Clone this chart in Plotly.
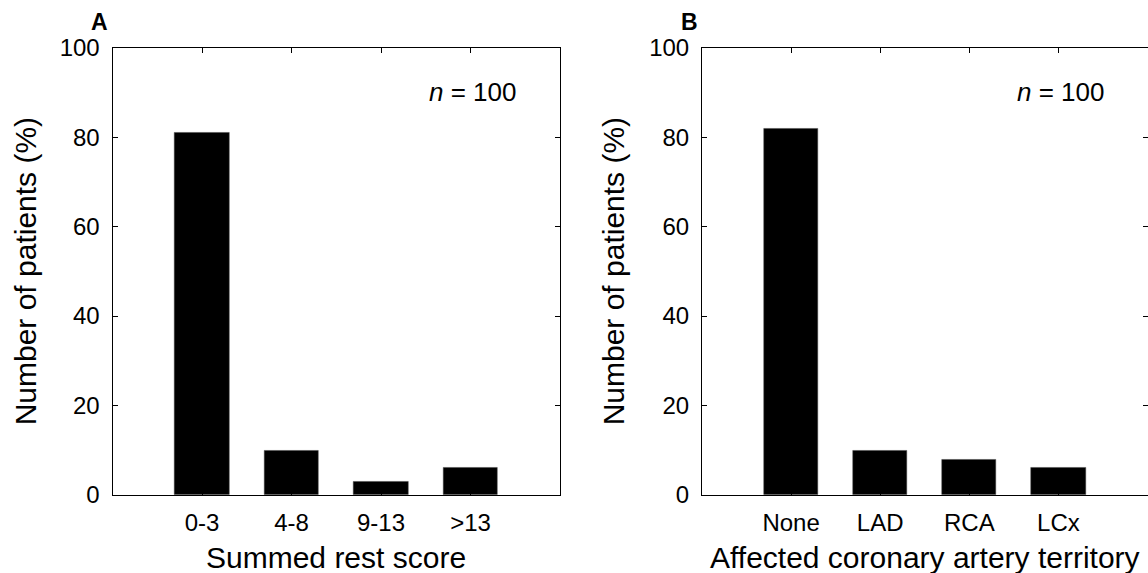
import plotly.graph_objects as go

# ---- data ----
score_categories = ["0-3", "4-8", "9-13", ">13"]
score_values = [81, 10, 3, 6]
territory_categories = ["None", "LAD", "RCA", "LCx"]
territory_values = [82, 10, 8, 6]
y_ticks = [0, 20, 40, 60, 80, 100]

W, H = 1148, 573
FONT = "Liberation Sans, Arial, sans-serif"

def px_x(x):
    return x / W

def px_y(y):
    return 1 - y / H

top_px, bottom_px = 47.7, 495.0
a_left, a_right = 112.5, 560.0
b_left, b_right = 702.0, 1147.5

fig = go.Figure()
fig.add_trace(go.Bar(x=score_categories, y=score_values, width=0.61,
                     marker=dict(color="black", line=dict(color="#444", width=0.5)),
                     xaxis="x", yaxis="y", showlegend=False))
fig.add_trace(go.Bar(x=territory_categories, y=territory_values, width=0.61,
                     marker=dict(color="black", line=dict(color="#444", width=0.5)),
                     xaxis="x2", yaxis="y2", showlegend=False))

common_x = dict(type="category", range=[-1, 4], showline=True, linecolor="black", linewidth=1,
                mirror="ticks", ticks="inside", ticklen=5, tickcolor="black", tickwidth=1,
                showgrid=False, zeroline=False, ticklabelstandoff=6, automargin=False,
                tickfont=dict(family=FONT, size=24, color="black"))
common_y = dict(range=[0, 100], tickvals=y_ticks, showline=True, linecolor="black", linewidth=1,
                mirror="ticks", ticks="inside", ticklen=5, tickcolor="black", tickwidth=1,
                showgrid=False, zeroline=False, ticklabelstandoff=7, automargin=False,
                tickfont=dict(family=FONT, size=24, color="black"))

yd = [px_y(bottom_px), px_y(top_px)]
fig.update_layout(
    template="none",
    width=W, height=H, margin=dict(l=0, r=0, t=0, b=0, pad=0),
    paper_bgcolor="white", plot_bgcolor="white",
    xaxis=dict(domain=[px_x(a_left), px_x(a_right)], anchor="y", **common_x),
    yaxis=dict(domain=yd, anchor="x", **common_y),
    xaxis2=dict(domain=[px_x(b_left), px_x(b_right)], anchor="y2", **common_x),
    yaxis2=dict(domain=yd, anchor="x2", **common_y),
    bargap=0,
)

ann = []
def add_text(text, x, y, size, angle=0, bold=False, xanchor="center"):
    ann.append(dict(text=f"<b>{text}</b>" if bold else text, x=px_x(x), y=px_y(y),
                    xref="paper", yref="paper", xanchor=xanchor, yanchor="middle",
                    showarrow=False, textangle=angle,
                    font=dict(family=FONT, size=size, color="black")))

add_text("Summed rest score", (a_left + a_right) / 2, 557, 30)
add_text("Affected coronary artery territory", (b_left + b_right) / 2, 557, 30)
add_text("Number of patients (%)", 25, (top_px + bottom_px) / 2, 30, angle=-90)
add_text("Number of patients (%)", 613, (top_px + bottom_px) / 2, 30, angle=-90)
add_text("A", 99, 22, 23, bold=True)
add_text("B", 689, 22, 23, bold=True)

for xr, yr in [("x", "y"), ("x2", "y2")]:
    ann.append(dict(text="<i>n</i> = 100", x=3.53, y=90, xref=xr, yref=yr,
                    xanchor="right", yanchor="middle", showarrow=False,
                    font=dict(family=FONT, size=26, color="black")))

fig.update_layout(annotations=ann)
fig.write_html("out.html", config={"displayModeBar": False},
               post_script="document.body.style.margin='0';document.body.style.overflow='hidden';")
